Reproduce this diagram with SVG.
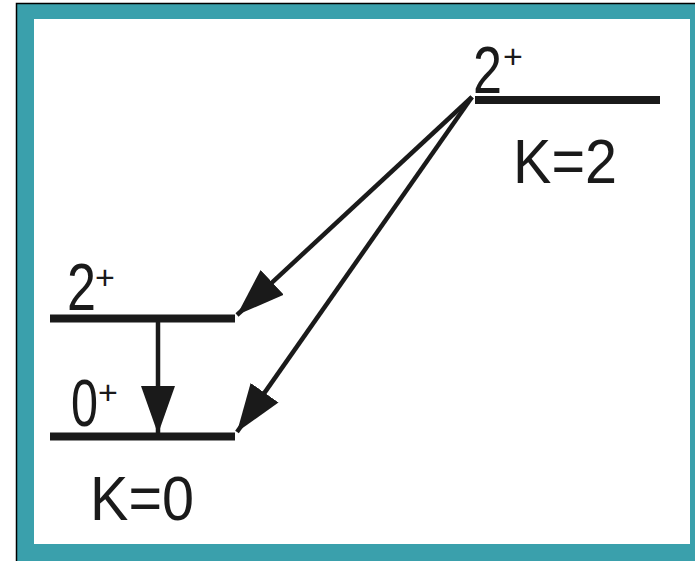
<svg xmlns="http://www.w3.org/2000/svg" width="695" height="561" viewBox="0 0 695 561">
<style>
.lvl{stroke:#1a1a1a;stroke-width:8;fill:none}
.arr{stroke:#1a1a1a;stroke-width:4.5;fill:none;marker-end:url(#ah)}
.t{font-family:"Liberation Sans",Arial,sans-serif;fill:#1a1a1a}
.sup{font-size:34px}
</style>
<defs>
<marker id="ah" markerUnits="userSpaceOnUse" markerWidth="52" markerHeight="38" viewBox="-48 -19 52 38" refX="0" refY="0" orient="auto">
<path d="M0,0 L-48,-17 L-48,17 Z" fill="#1a1a1a"/>
</marker>
</defs>
<rect width="695" height="561" fill="#fff"/>
<rect x="16.5" y="3.5" width="690" height="570" fill="#3aa0ac" stroke="#000" stroke-width="1.5"/>
<rect x="34" y="19" width="656" height="525" fill="#fff"/>
<g id="connectors">
<line class="arr" x1="472" y1="97" x2="237" y2="315"/>
<line class="arr" x1="472" y1="97" x2="237" y2="432"/>
<line class="arr" x1="158" y1="322" x2="158" y2="434"/>
</g>
<g id="level-k2-2plus">
<line class="lvl" x1="475" y1="100" x2="660" y2="100"/>
<text class="t" y="93" font-size="66"><tspan x="473" textLength="29" lengthAdjust="spacingAndGlyphs">2</tspan><tspan class="sup" x="503" y="68">+</tspan></text>
<text class="t" x="513" y="183" font-size="63" textLength="104" lengthAdjust="spacingAndGlyphs">K=2</text>
</g>
<g id="level-k0-2plus">
<line class="lvl" x1="50" y1="318.5" x2="235" y2="318.5"/>
<text class="t" y="310" font-size="66"><tspan x="67" textLength="29" lengthAdjust="spacingAndGlyphs">2</tspan><tspan class="sup" x="95" y="289">+</tspan></text>
</g>
<g id="level-k0-0plus">
<line class="lvl" x1="50" y1="436.5" x2="235" y2="436.5"/>
<text class="t" y="426" font-size="66"><tspan x="71" textLength="27" lengthAdjust="spacingAndGlyphs">0</tspan><tspan class="sup" x="98" y="404">+</tspan></text>
<text class="t" x="90" y="520" font-size="63" textLength="104" lengthAdjust="spacingAndGlyphs">K=0</text>
</g>
</svg>
